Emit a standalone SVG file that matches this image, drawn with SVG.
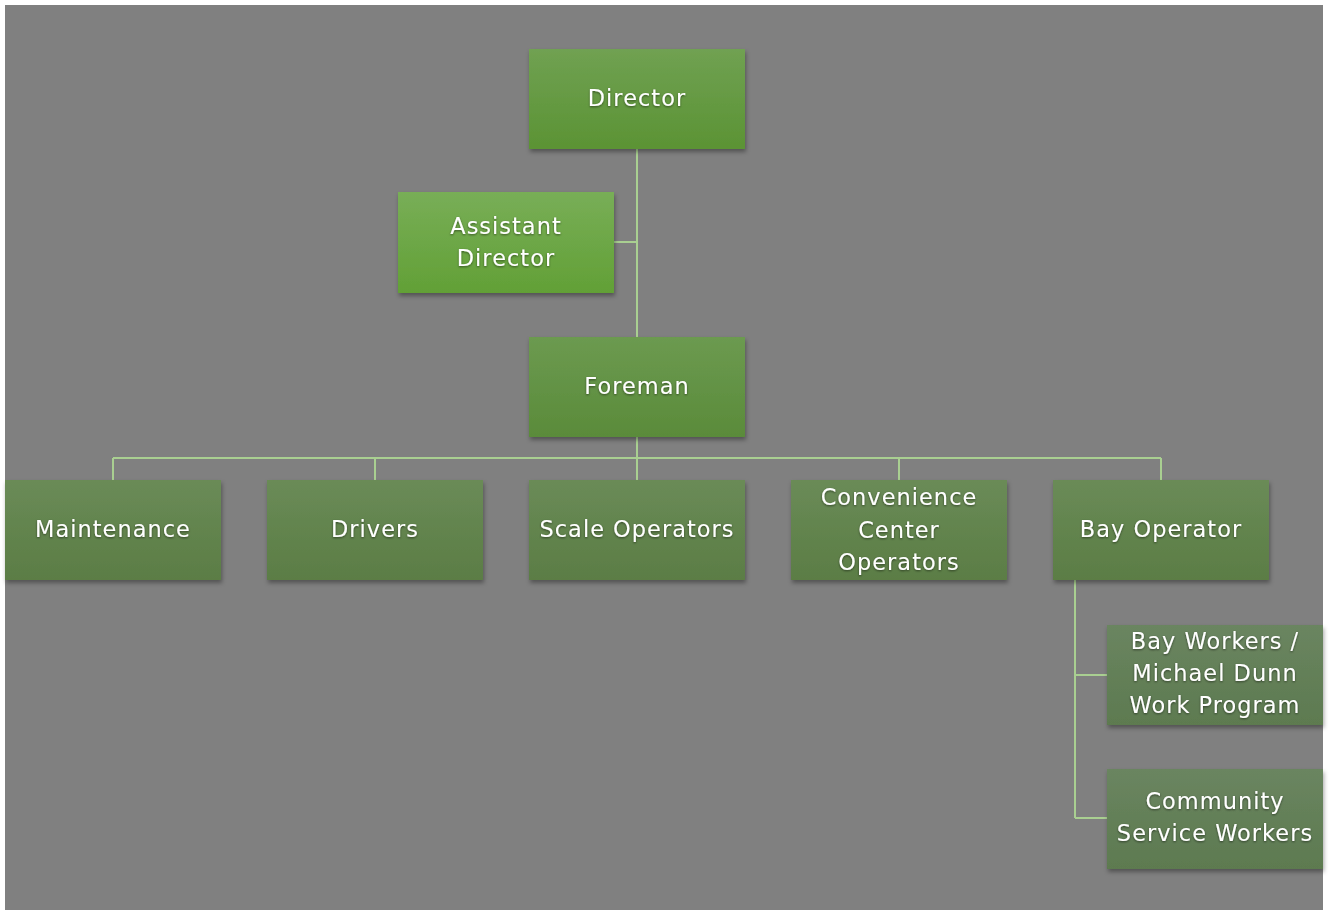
<svg xmlns="http://www.w3.org/2000/svg" width="1331" height="911" viewBox="0 0 1331 911">
<defs>
<linearGradient id="g1" x1="0" y1="0" x2="0" y2="1"><stop offset="0" stop-color="#70a152"/><stop offset="1" stop-color="#5b9334"/></linearGradient>
<linearGradient id="g2" x1="0" y1="0" x2="0" y2="1"><stop offset="0" stop-color="#78ae57"/><stop offset="1" stop-color="#62a036"/></linearGradient>
<linearGradient id="g3" x1="0" y1="0" x2="0" y2="1"><stop offset="0" stop-color="#6c9a50"/><stop offset="1" stop-color="#5a8b3a"/></linearGradient>
<linearGradient id="g4" x1="0" y1="0" x2="0" y2="1"><stop offset="0" stop-color="#6a8b57"/><stop offset="1" stop-color="#5b7d45"/></linearGradient>
<linearGradient id="g5" x1="0" y1="0" x2="0" y2="1"><stop offset="0" stop-color="#6a8560"/><stop offset="1" stop-color="#5d7a50"/></linearGradient>
<filter id="sh" x="-10%" y="-10%" width="125%" height="130%"><feDropShadow dx="1" dy="3" stdDeviation="2" flood-color="#000" flood-opacity="0.35"/></filter>
<filter id="tsh" x="-10%" y="-20%" width="120%" height="150%"><feDropShadow dx="0" dy="1" stdDeviation="1" flood-color="#000" flood-opacity="0.5"/></filter>
</defs>
<style>
.t{font-family:"DejaVu Sans","Noto Sans",sans-serif;font-size:22.5px;fill:#ffffff;text-anchor:middle;letter-spacing:1px;filter:url(#tsh)}
.c{fill:none;stroke:#a9cf91;stroke-width:2}
rect.n{filter:url(#sh)}
</style>
<rect x="0" y="0" width="1331" height="911" fill="#ffffff"/>
<rect x="5" y="5" width="1318" height="905" fill="#808080"/>
<g id="connectors">
<path class="c" d="M637 149 V337 M614 242 H637"/>
<path class="c" d="M637 437 V480 M113 458 H1161 M113 458 V480 M375 458 V480 M899 458 V480 M1161 458 V480"/>
<path class="c" d="M1075 580 V818 M1075 675 H1107 M1075 818 H1107"/>
</g>
<g id="director"><rect class="n" x="529" y="49" width="216" height="100" fill="url(#g1)"/><text class="t" x="637" y="106">Director</text></g>
<g id="assistant-director"><rect class="n" x="398" y="192" width="216" height="101" fill="url(#g2)"/><text class="t" x="506" y="234">Assistant</text><text class="t" x="506" y="266">Director</text></g>
<g id="foreman"><rect class="n" x="529" y="337" width="216" height="100" fill="url(#g3)"/><text class="t" x="637" y="394">Foreman</text></g>
<g id="maintenance"><rect class="n" x="5" y="480" width="216" height="100" fill="url(#g4)"/><text class="t" x="113" y="537">Maintenance</text></g>
<g id="drivers"><rect class="n" x="267" y="480" width="216" height="100" fill="url(#g4)"/><text class="t" x="375" y="537">Drivers</text></g>
<g id="scale-operators"><rect class="n" x="529" y="480" width="216" height="100" fill="url(#g4)"/><text class="t" x="637" y="537">Scale Operators</text></g>
<g id="convenience-center-operators"><rect class="n" x="791" y="480" width="216" height="100" fill="url(#g4)"/><text class="t" x="899" y="505">Convenience</text><text class="t" x="899" y="538">Center</text><text class="t" x="899" y="570">Operators</text></g>
<g id="bay-operator"><rect class="n" x="1053" y="480" width="216" height="100" fill="url(#g4)"/><text class="t" x="1161" y="537">Bay Operator</text></g>
<g id="bay-workers"><rect class="n" x="1107" y="625" width="216" height="100" fill="url(#g5)"/><text class="t" x="1215" y="649">Bay Workers /</text><text class="t" x="1215" y="681">Michael Dunn</text><text class="t" x="1215" y="713">Work Program</text></g>
<g id="community-service-workers"><rect class="n" x="1107" y="769" width="216" height="100" fill="url(#g5)"/><text class="t" x="1215" y="809">Community</text><text class="t" x="1215" y="841">Service Workers</text></g>
</svg>
